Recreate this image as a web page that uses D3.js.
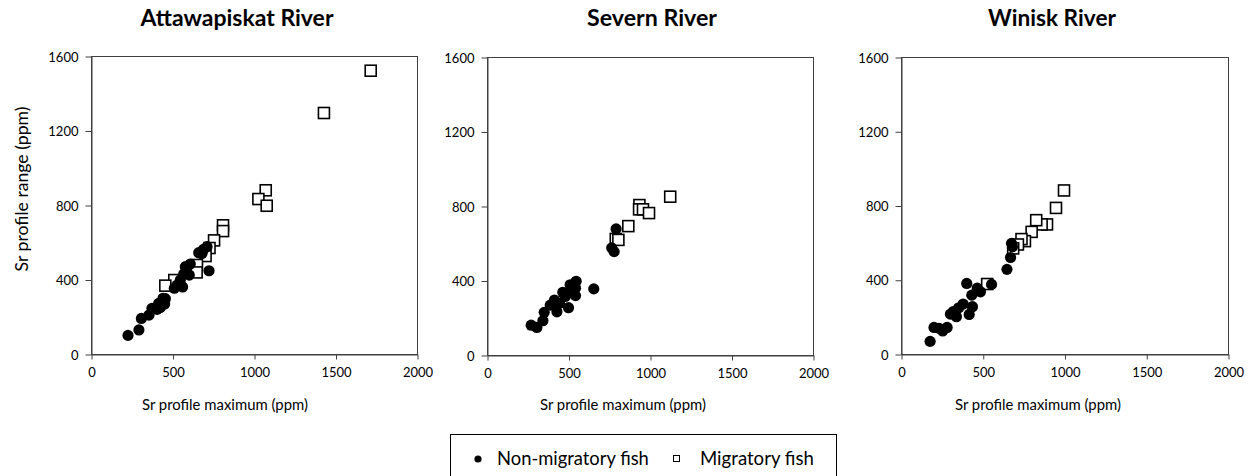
<!DOCTYPE html>
<html>
<head>
<meta charset="utf-8">
<script src="https://cdn.jsdelivr.net/npm/d3@7"></script>
<style>
  body { margin: 0; background: #fff; }
  text { font-family: Lato, "Open Sans", sans-serif; fill: #000; }
</style>
</head>
<body>
<svg id="chart" width="1252" height="476"></svg>
<script>
"use strict";

// ---- data ----
var rivers = ["Attawapiskat River", "Severn River", "Winisk River"];
var xTicks = [0, 500, 1000, 1500, 2000];
var yTicks = [0, 400, 800, 1200, 1600];
var legendLabels = ["Non-migratory fish", "Migratory fish"];

// [Sr profile maximum, Sr profile range]
var attawapiskatMigratory = [
  [1716, 1521], [1429, 1294], [1072, 879], [1027, 832], [1078, 796],
  [810, 691], [810, 660], [755, 610], [727, 569], [703, 526],
  [650, 478], [648, 438], [511, 397], [456, 367]
];
var attawapiskatNonMigratory = [
  [227, 100], [294, 129], [309, 191], [356, 209], [374, 245], [405, 240],
  [425, 249], [442, 268], [442, 299], [456, 297], [452, 268], [511, 353],
  [562, 360], [548, 397], [569, 430], [579, 469], [603, 424], [609, 483],
  [724, 447], [661, 544], [691, 562], [712, 576], [681, 540], [528, 370],
  [415, 272]
];
var severnMigratory = [
  [1124, 850], [935, 805], [933, 782], [957, 782], [994, 762],
  [867, 692], [790, 623], [806, 618]
];
var severnNonMigratory = [
  [792, 677], [765, 575], [780, 555], [655, 355], [547, 396], [543, 359],
  [543, 319], [510, 377], [500, 254], [465, 337], [429, 232], [414, 295],
  [388, 268], [351, 229], [343, 184], [306, 148], [271, 160], [445, 277],
  [480, 314], [520, 350]
];
var winiskMigratory = [
  [997, 881], [948, 787], [893, 698], [860, 698], [827, 721], [799, 658],
  [758, 608], [737, 619], [715, 590], [686, 569], [527, 377]
];
var winiskNonMigratory = [
  [178, 68], [202, 143], [233, 138], [255, 124], [282, 143], [302, 215],
  [339, 201], [353, 249], [380, 269], [402, 380], [417, 213], [437, 255],
  [433, 317], [466, 355], [486, 335], [554, 375], [648, 456], [670, 520],
  [682, 578], [676, 596], [319, 228]
];
var migratory = [attawapiskatMigratory, severnMigratory, winiskMigratory];
var nonMigratory = [attawapiskatNonMigratory, severnNonMigratory, winiskNonMigratory];

// ---- layout ----
var frames = [
  { left: 91,  right: 417,  top: 56, bottom: 354, titleX: 237,  xLabelX: 225 },
  { left: 487, right: 813,  top: 57, bottom: 355, titleX: 652,  xLabelX: 623 },
  { left: 901, right: 1228, top: 57, bottom: 354, titleX: 1052, xLabelX: 1038 }
];
var ink = "#404040";

var svg = d3.select("#chart");

// make a text span the given width: squeeze the glyphs if too wide, else grow the font
function fitWidth(t, w) {
  var cur = t.node().getComputedTextLength();
  if (cur > w) {
    t.attr("textLength", w).attr("lengthAdjust", "spacingAndGlyphs");
  } else {
    var fs = parseFloat(t.style("font-size"));
    t.style("font-size", (fs * w / cur) + "px");
  }
}

var titleWidths = [193, 130, 128];

frames.forEach(function(f, i) {
  var x = d3.scaleLinear().domain([0, 2000]).range([f.left, f.right]);
  var y = d3.scaleLinear().domain([0, 1600]).range([f.bottom, f.top]);
  var g = svg.append("g").attr("class", "panel");

  // plot border
  g.append("rect")
    .attr("x", f.left + 0.5).attr("y", f.top + 0.5)
    .attr("width", f.right - f.left).attr("height", f.bottom - f.top)
    .attr("fill", "none").attr("stroke", ink).attr("stroke-width", 1);

  // axes
  var xAxis = g.append("g")
    .attr("transform", "translate(0.5," + (f.bottom + 0.5) + ")")
    .call(d3.axisBottom(x).tickValues(xTicks).tickSize(5).tickSizeOuter(0).tickFormat(d3.format("d")));
  var yAxis = g.append("g")
    .attr("transform", "translate(" + (f.left + 0.5) + ",0.5)")
    .call(d3.axisLeft(y).tickValues(yTicks).tickSize(6).tickSizeOuter(0).tickFormat(d3.format("d")));
  [xAxis, yAxis].forEach(function(a) {
    a.select(".domain").attr("stroke", ink);
    a.selectAll(".tick line").attr("stroke", ink);
    a.selectAll(".tick text").attr("font-family", null).style("font-size", "13px").attr("fill", "#000");
  });
  xAxis.selectAll(".tick text").attr("y", 13).attr("dy", "0.71em");
  yAxis.selectAll(".tick text").attr("x", -13).attr("dy", "0.35em");

  // migratory fish: open squares (drawn first, circles sit on top)
  g.selectAll("rect.mig")
    .data(migratory[i]).enter()
    .append("rect")
      .attr("class", "mig")
      .attr("x", function(d) { return x(d[0]) - 5.5; })
      .attr("y", function(d) { return y(d[1]) - 5.5; })
      .attr("width", 11).attr("height", 11)
      .attr("fill", "#fff").attr("stroke", "#000").attr("stroke-width", 1.6);

  // non-migratory fish: filled circles
  g.selectAll("circle.non")
    .data(nonMigratory[i]).enter()
    .append("circle")
      .attr("class", "non")
      .attr("cx", function(d) { return x(d[0]); })
      .attr("cy", function(d) { return y(d[1]); })
      .attr("r", 5.6)
      .attr("fill", "#000");

  // title
  var t = g.append("text")
    .attr("x", f.titleX).attr("y", 26)
    .attr("text-anchor", "middle")
    .style("font-weight", "bold").style("font-size", "21px")
    .text(rivers[i]);
  fitWidth(t, titleWidths[i]);

  // x axis label
  var xl = g.append("text")
    .attr("x", f.xLabelX).attr("y", 410)
    .attr("text-anchor", "middle")
    .style("font-size", "15.5px")
    .text("Sr profile maximum (ppm)");
  fitWidth(xl, 166);
});

// y axis label (first panel only)
var yl = svg.append("text")
  .attr("transform", "translate(28,189) rotate(-90)")
  .attr("text-anchor", "middle")
  .style("font-size", "15.5px")
  .text("Sr profile range (ppm)");
fitWidth(yl, 165);

// ---- legend ----
var legend = svg.append("g").attr("class", "legend");
legend.append("rect")
  .attr("x", 450.5).attr("y", 434.5).attr("width", 386).attr("height", 60)
  .attr("fill", "#fff").attr("stroke", "#000").attr("stroke-width", 1);
legend.append("circle")
  .attr("cx", 478).attr("cy", 459).attr("r", 3.6).attr("fill", "#000");
var l1 = legend.append("text")
  .attr("x", 497).attr("y", 465).style("font-size", "15.5px")
  .text(legendLabels[0]);
fitWidth(l1, 152);
legend.append("rect")
  .attr("x", 673.5).attr("y", 455.5).attr("width", 6).attr("height", 6)
  .attr("fill", "#fff").attr("stroke", "#000").attr("stroke-width", 1);
var l2 = legend.append("text")
  .attr("x", 700).attr("y", 465).style("font-size", "15.5px")
  .text(legendLabels[1]);
fitWidth(l2, 114);
</script>
</body>
</html>
